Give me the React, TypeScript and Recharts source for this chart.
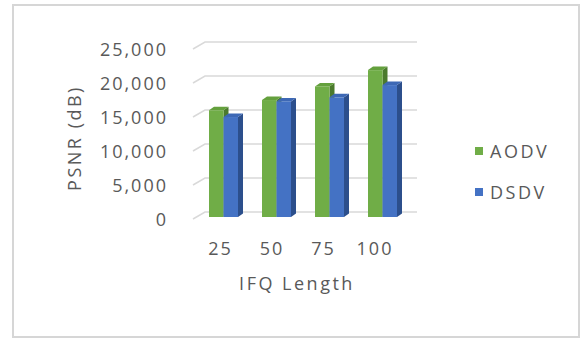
import { Bar, BarChart, CartesianGrid, Legend, XAxis, YAxis } from "recharts";

const ifqLengths = ["25", "50", "75", "100"];
const aodvPsnr = [15700, 17200, 19200, 21600];
const dsdvPsnr = [14700, 17000, 17600, 19400];
const psnrTicks = [0, 5000, 10000, 15000, 20000, 25000];

const data = ifqLengths.map((len, i) => ({
  len,
  AODV: aodvPsnr[i],
  DSDV: dsdvPsnr[i],
}));

const FONT = "'Open Sans', sans-serif";
const TEXT = "#595959";
const GRID = "#d9d9d9";
const DX = 5;
const DY = 3.5;
const LEGEND_W = 100;

// front face + top + right side, Excel-style 3D column
const Column3D = (props: any) => {
  const { x, y, width, height, fill, topFill, sideFill } = props;
  if (height <= 0) return null;
  const r = x + width;
  const b = y + height;
  return (
    <g>
      <polygon
        points={`${r},${y} ${r + DX},${y - DY} ${r + DX},${b - DY} ${r},${b}`}
        fill={sideFill}
      />
      <polygon
        points={`${x},${y} ${x + DX},${y - DY} ${r + DX},${y - DY} ${r},${y}`}
        fill={topFill}
      />
      <rect x={x} y={y} width={width} height={height} fill={fill} />
    </g>
  );
};

// back wall gridline with the slanted piece on the left wall
const wallLine = (p: any) => {
  const { x1, x2, y1 } = p;
  return (
    <path
      key={p.key}
      d={`M${x1 - 4},${y1 + 2}L${x1 + 8},${y1 - 5}L${x2 + 8},${y1 - 5}`}
      stroke={GRID}
      strokeWidth={1.5}
      fill="none"
    />
  );
};

const YTick = ({ y, payload }: any) => (
  <text
    x={168}
    y={y + 9}
    textAnchor="end"
    fill={TEXT}
    fontFamily={FONT}
    fontSize={18}
    letterSpacing={2}
  >
    {Number(payload.value).toLocaleString("en-US")}
  </text>
);

const XTick = ({ x, y, payload, index }: any) => (
  <text
    x={x - 3 - index * 1.5}
    y={y + 30}
    textAnchor="middle"
    fill={TEXT}
    fontFamily={FONT}
    fontSize={18}
    letterSpacing={2}
  >
    {payload.value}
  </text>
);

const renderLegend = ({ payload }: any) => (
  <div style={{ fontFamily: FONT, fontSize: 18, color: TEXT, letterSpacing: 2.5 }}>
    {(payload || []).map((entry: any) => (
      <div
        key={entry.value}
        style={{ display: "flex", alignItems: "center", height: 41 }}
      >
        <span
          style={{
            width: 8,
            height: 8,
            background: entry.color,
            marginRight: 7,
            display: "inline-block",
          }}
        />
        <span>{entry.value}</span>
      </div>
    ))}
  </div>
);

export default function App() {
  return (
    <div
      style={{
        position: "fixed",
        left: 0,
        top: 0,
        width: 581,
        height: 338,
        background: "#fff",
      }}
    >
      <div
        style={{
          position: "absolute",
          left: 12,
          top: 4,
          width: 564,
          height: 330,
          border: "2px solid #d6d6d6",
        }}
      />
      <div style={{ position: "absolute", left: 0, top: 0 }}>
        <BarChart
          width={581}
          height={338}
          data={data}
          margin={{ top: 47, right: 172 - LEGEND_W, bottom: 0, left: 0 }}
          barSize={14.5}
          barGap={0}
        >
          <CartesianGrid vertical={false} horizontal={wallLine} />
          <YAxis
            width={197}
            domain={[0, 25000]}
            ticks={psnrTicks}
            interval={0}
            axisLine={false}
            tickLine={false}
            tick={<YTick />}
            label={{
              content: () => (
                <text
                  x={74}
                  y={138}
                  transform="rotate(-90, 74, 138)"
                  textAnchor="middle"
                  dominantBaseline="central"
                  fill={TEXT}
                  fontFamily={FONT}
                  fontSize={18}
                  letterSpacing={2.5}
                >
                  PSNR (dB)
                </text>
              ),
            }}
          />
          <XAxis
            dataKey="len"
            height={121}
            axisLine={false}
            tickLine={false}
            tick={<XTick />}
            label={{
              content: ({ viewBox }: any) => (
                <text
                  x={viewBox.x + viewBox.width / 2 - 6}
                  y={viewBox.y + 73}
                  textAnchor="middle"
                  fill={TEXT}
                  fontFamily={FONT}
                  fontSize={18}
                  letterSpacing={2.5}
                >
                  IFQ Length
                </text>
              ),
            }}
          />
          <Legend
            layout="vertical"
            align="right"
            verticalAlign="middle"
            content={renderLegend}
            wrapperStyle={{
              left: 475,
              top: 130,
              width: LEGEND_W,
              right: "auto",
              bottom: "auto",
            }}
          />
          <Bar
            dataKey="AODV"
            fill="#70ad47"
            isAnimationActive={false}
            shape={(p: any) => (
              <Column3D {...p} topFill="#64a03d" sideFill="#4b7a2d" />
            )}
          />
          <Bar
            dataKey="DSDV"
            fill="#4472c4"
            isAnimationActive={false}
            shape={(p: any) => (
              <Column3D {...p} topFill="#3d68b5" sideFill="#2c4f8c" />
            )}
          />
        </BarChart>
      </div>
    </div>
  );
}
